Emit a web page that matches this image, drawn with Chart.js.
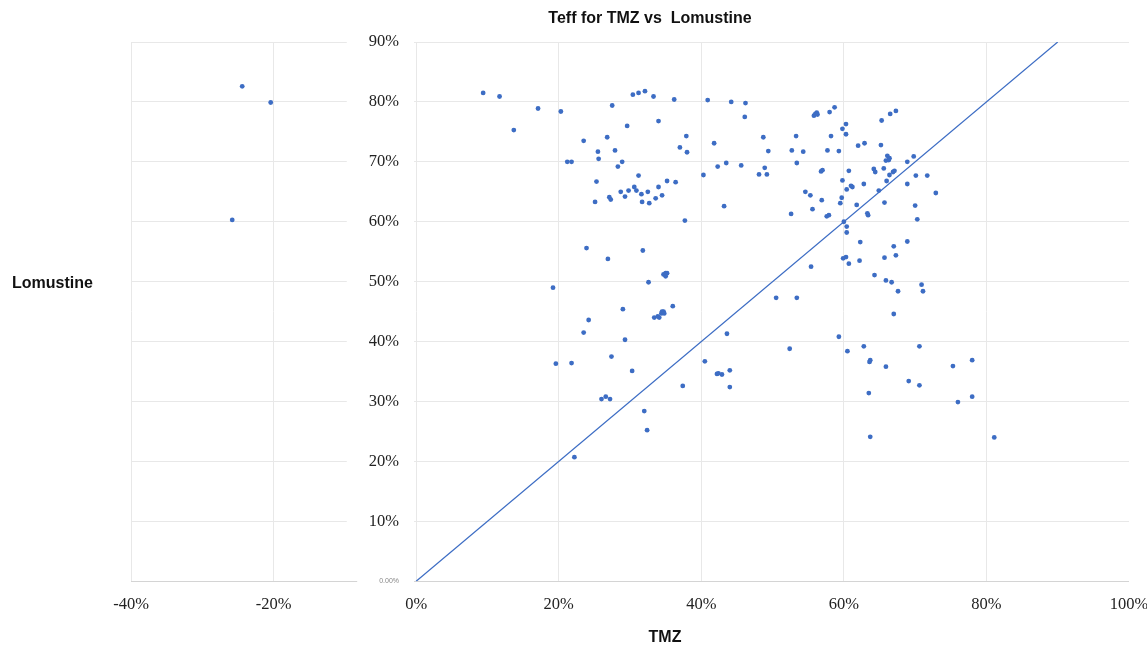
<!DOCTYPE html>
<html>
<head>
<meta charset="utf-8">
<title>Teff for TMZ vs Lomustine</title>
<script src="https://cdn.jsdelivr.net/npm/chart.js@4.4.1/dist/chart.umd.min.js"></script>
<style>
html, body { margin: 0; padding: 0; background: #fff; }
#wrap { width: 1147px; height: 647px; }
</style>
</head>
<body>
<div id="wrap"><canvas id="canvas" width="1147" height="647"></canvas></div>
<script>
// TMZ (x) and Lomustine (y), in percent
var tmz = [
  -24.4, -20.4, -25.8,
  9.4, 11.7, 17.1, 20.3, 13.7, 30.4, 31.2, 32.1, 27.5, 29.6, 26.8, 23.5, 25.5, 27.9, 25.6, 21.2, 21.8,
  28.9, 28.3, 31.2, 25.3, 30.6, 28.7, 29.8, 30.9, 29.3, 31.6, 25.1, 27.1, 27.3, 31.7, 23.9, 31.8, 26.9,
  33.3, 36.2, 40.9, 44.2, 46.2, 46.1, 34.0, 37.9, 37.0, 38.0, 41.8, 48.7, 49.4, 53.3, 52.7, 54.3,
  55.8, 56.0, 56.2, 56.3, 58.0, 58.7, 58.2, 57.7, 53.4, 56.8, 57.0, 42.3, 43.5, 45.6, 48.9, 48.1, 49.2,
  40.3, 35.2, 36.4, 34.0, 32.5, 33.6, 34.5, 32.7, 43.2, 37.7, 52.6, 55.6, 54.6, 55.3, 56.9, 57.6, 57.9,
  60.3, 59.8, 60.3, 65.3, 66.5, 67.3, 59.3, 62.0, 62.9, 65.2, 66.1, 66.4, 65.9, 66.3, 68.9, 69.8,
  60.7, 64.2, 64.4, 65.6, 67.1, 66.9, 66.4, 70.1, 71.7, 72.9, 59.8, 61.0, 61.2, 60.4, 62.8, 66.0, 68.9,
  64.9, 59.7, 59.5, 61.8, 65.7, 70.0, 63.3, 63.4, 70.3, 60.0, 60.4, 60.4, 62.3, 68.9, 67.0, 67.3, 65.7,
  60.3, 59.9, 62.2,
  19.2, 29.0, 24.2, 23.5, 29.3, 19.6, 21.8, 27.4, 30.3, 26.0, 26.6, 27.2, 32.0, 32.4, 22.2,
  32.6, 34.7, 35.0, 35.2, 35.0, 36.0, 33.4, 33.9, 34.1, 34.4, 34.7, 34.5, 34.8, 50.5, 53.4, 55.4,
  43.6, 52.4, 40.5, 42.2, 42.4, 42.9, 44.0, 44.0, 37.4,
  60.7, 64.3, 65.9, 66.7, 67.6, 70.9, 71.1, 67.0, 59.3, 60.5, 62.8, 70.6, 63.7, 63.6, 65.9, 75.3,
  78.0, 69.1, 70.6, 63.5, 76.0, 78.0, 63.7, 81.1
];
var lomustine = [
  82.6, 79.9, 60.3,
  81.5, 80.9, 78.9, 78.4, 75.3, 81.2, 81.5, 81.8, 79.4, 76.0, 74.1, 73.5, 71.7, 71.9, 70.5, 70.0, 70.0,
  70.0, 69.2, 67.7, 66.7, 65.8, 65.0, 65.2, 65.2, 64.2, 64.6, 63.3, 64.1, 63.7, 63.3, 55.6, 55.2, 53.8,
  80.9, 80.4, 80.3, 80.0, 79.8, 77.5, 76.8, 74.3, 72.4, 71.6, 73.1, 74.1, 71.8, 74.3, 71.9, 71.7,
  77.7, 78.0, 78.2, 77.9, 78.3, 79.1, 74.3, 71.9, 69.8, 68.4, 68.6, 69.2, 69.8, 69.4, 69.0, 67.9, 67.9,
  67.8, 66.8, 66.6, 65.8, 65.0, 63.9, 64.4, 63.1, 62.6, 60.2, 61.3, 62.1, 65.0, 64.4, 63.6, 60.9, 61.1,
  76.3, 75.5, 74.6, 76.9, 78.0, 78.5, 71.8, 72.7, 73.1, 72.8, 71.0, 70.6, 70.2, 70.3, 70.0, 70.9,
  68.5, 68.8, 68.3, 68.9, 68.5, 68.3, 67.8, 67.7, 67.7, 64.8, 66.9, 66.0, 65.8, 65.4, 66.3, 66.8, 66.3,
  65.2, 64.0, 63.1, 62.8, 63.2, 62.7, 61.4, 61.1, 60.4, 60.0, 59.2, 58.2, 56.6, 56.7, 55.9, 54.4, 54.0,
  54.1, 53.9, 53.5,
  49.0, 45.4, 43.6, 41.5, 40.3, 36.3, 36.4, 37.5, 35.1, 30.4, 30.8, 30.4, 28.4, 25.2, 20.7,
  49.9, 51.2, 51.4, 51.4, 50.9, 45.9, 44.0, 44.2, 44.0, 44.7, 45.0, 45.0, 44.7, 47.3, 47.3, 52.5,
  41.3, 38.8, 36.7, 34.6, 34.7, 34.5, 35.2, 32.4, 32.6,
  53.0, 51.1, 50.2, 49.9, 48.4, 49.5, 48.4, 44.6, 40.8, 38.4, 39.2, 39.2, 36.9, 36.6, 35.8, 35.9,
  36.9, 33.4, 32.7, 31.4, 29.9, 30.8, 24.1, 24.0
];
// reference line y = x
var diagonalX = [0, 90];
var diagonalY = [0, 90];

var chartTitle = 'Teff for TMZ vs  Lomustine';
var xTitle = 'TMZ';
var yTitle = 'Lomustine';

var blue = '#3d6dc4';
var gridColor = '#e8e8e8';

var points = tmz.map(function(v, i) { return { x: v, y: lomustine[i] }; });
var diagonal = diagonalX.map(function(v, i) { return { x: v, y: diagonalY[i] }; });

// titles drawn by hand so they sit where the original has them
var textPlugin = {
  id: 'freeText',
  afterDraw: function(chart) {
    var c = chart.ctx;
    c.save();
    c.fillStyle = '#111';
    c.font = 'bold 16px "Liberation Sans", Arial, sans-serif';
    c.textBaseline = 'middle';
    c.textAlign = 'center';
    c.fillText(chartTitle, 650, 19);
    c.fillText(xTitle, 665, 638);
    c.textAlign = 'left';
    c.fillText(yTitle, 12, 284);
    c.restore();
  }
};

var ctx = document.getElementById('canvas').getContext('2d');
var myChart = new Chart(ctx, {
  type: 'scatter',
  data: {
    datasets: [
      {
        label: 'Lomustine',
        data: points,
        backgroundColor: blue,
        borderWidth: 0,
        pointRadius: 2.4,
        pointHoverRadius: 2.4
      },
      {
        type: 'line',
        label: 'y = x',
        data: diagonal,
        borderColor: blue,
        borderWidth: 1.2,
        pointRadius: 0,
        fill: false,
        tension: 0
      }
    ]
  },
  options: {
    responsive: false,
    animation: false,
    layout: { padding: { left: 131, right: 11, top: 42, bottom: 18 } },
    plugins: {
      legend: { display: false },
      tooltip: { enabled: false },
      title: { display: false }
    },
    scales: {
      x: {
        type: 'linear',
        min: -40,
        max: 100,
        ticks: {
          stepSize: 20,
          padding: 14,
          color: '#222',
          font: { family: '"Liberation Serif", "Times New Roman", serif', size: 16.5 },
          callback: function(v) { return v + '%'; }
        },
        grid: {
          drawTicks: false,
          color: function(c) { return c.tick && c.tick.value === 100 ? 'rgba(0,0,0,0)' : gridColor; }
        },
        border: { display: false },
        // only keep room for half of the "100%" label on the right
        afterFit: function(scale) { scale.paddingRight = 18; }
      },
      y: {
        type: 'linear',
        min: 0,
        max: 90,
        // labels end a little left of the 0% line
        position: { x: -2.4 },
        ticks: {
          stepSize: 10,
          padding: 20,
          color: function(c) { return c.tick && c.tick.value === 0 ? '#888' : '#222'; },
          font: function(c) {
            if (c.tick && c.tick.value === 0) return { family: '"Liberation Sans", Arial, sans-serif', size: 7 };
            return { family: '"Liberation Serif", "Times New Roman", serif', size: 16.5 };
          },
          callback: function(v) { return v === 0 ? '0.00%' : v + '%'; },
          showLabelBackdrop: true,
          backdropColor: '#fff',
          backdropPadding: { left: 22, right: 15, top: 3, bottom: 3 }
        },
        grid: {
          drawTicks: false,
          color: function(c) { return c.tick && c.tick.value === 0 ? '#d4d4d4' : gridColor; }
        },
        border: { display: false }
      }
    }
  },
  plugins: [textPlugin]
});
</script>
</body>
</html>
